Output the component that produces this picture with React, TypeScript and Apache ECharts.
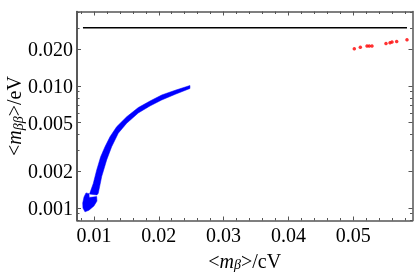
import React, { useEffect, useRef } from 'react';
import * as echarts from 'echarts';

// Axis ranges (data units)
const xMin = 0.00738;
const xMax = 0.05915;
const yMin = 0.00079;
const yMax = 0.0408;

// Tick values
const xMajorTicks = [0.01, 0.02, 0.03, 0.04, 0.05];
const xMinorTicks = [0.008, 0.012, 0.014, 0.016, 0.018, 0.022, 0.024, 0.026, 0.028, 0.032, 0.034, 0.036, 0.038, 0.042, 0.044, 0.046, 0.048, 0.052, 0.054, 0.056, 0.058];
const yMajorTicks = [0.001, 0.002, 0.005, 0.01, 0.02];
const yMinorTicks = [0.0008, 0.0009, 0.003, 0.004, 0.006, 0.007, 0.008, 0.009, 0.03, 0.04];

// Blue allowed region: upper/left edge (top -> bottom) and lower/right edge (bottom -> top)
const bandUpperEdge: [number, number][] = [
  [0.02481, 0.01009], [0.02265, 0.00927], [0.02045, 0.00844], [0.01864, 0.00753],
  [0.01684, 0.00666], [0.01505, 0.0056], [0.0135, 0.00464], [0.01247, 0.00384],
  [0.0117, 0.00318], [0.01103, 0.00263], [0.01042, 0.00205], [0.00989, 0.00159],
  [0.00931, 0.0013],
];
const bandLowerEdge: [number, number][] = [
  [0.01046, 0.00128], [0.01066, 0.00132], [0.01119, 0.00181], [0.01196, 0.00248],
  [0.01273, 0.00318], [0.01375, 0.0041], [0.01505, 0.00495], [0.01684, 0.00601],
  [0.01864, 0.00686], [0.02045, 0.00768], [0.02265, 0.0086], [0.02481, 0.00954],
];
const blobOutline: [number, number][] = [
  [0.00877, 0.00133], [0.00923, 0.00131], [0.00927, 0.00122], [0.01042, 0.00124],
  [0.01046, 0.00114], [0.01, 0.00104], [0.00923, 0.00096], [0.00861, 0.00093],
  [0.0083, 0.001], [0.00826, 0.0011], [0.00846, 0.00123],
];

// Red points
const redX = [0.05017, 0.0511, 0.05213, 0.05248, 0.0529, 0.05506, 0.05568, 0.05599, 0.05671, 0.0583];
const redY = [0.0202, 0.0208, 0.0213, 0.0213, 0.0213, 0.0223, 0.0226, 0.0229, 0.0232, 0.0239];

// Black horizontal bound
const boundLevel = 0.03;
const boundXStart = 0.0083;
const boundXEnd = 0.0583;

const FONT = 'Liberation Serif';
const FRAME = '#555';

const lg = (v: number) => Math.log10(v);

export default function App() {
  const ref = useRef<HTMLDivElement>(null);
  useEffect(() => {
    if (!ref.current) return;
    const chart = echarts.init(ref.current, undefined, { renderer: 'svg' });

    const xBase = {
      type: 'value' as const,
      min: xMin,
      max: xMax,
      splitLine: { show: false },
      gridIndex: 0,
    };
    const yBase = {
      type: 'value' as const,
      min: lg(yMin),
      max: lg(yMax),
      splitLine: { show: false },
      gridIndex: 0,
    };
    const richName = {
      a: { fontFamily: FONT, fontSize: 20, lineHeight: 22, color: '#000' },
      m: { fontFamily: FONT, fontSize: 20, lineHeight: 22, fontStyle: 'italic', color: '#000' },
      s: { fontFamily: FONT, fontSize: 14, lineHeight: 14, fontStyle: 'italic', color: '#000', padding: [8, 0, 0, 0] },
    };

    const option: any = {
      animation: false,
      grid: { left: 77, right: 2.5, top: 11.5, bottom: 53.5, containLabel: false, outerBoundsMode: 'none' },
      xAxis: [
        {
          ...xBase,
          position: 'bottom',
          axisLine: { show: true, lineStyle: { color: FRAME, width: 1.5 } },
          axisTick: { show: true, inside: true, length: 4, customValues: xMajorTicks, lineStyle: { color: FRAME } },
          axisLabel: {
            show: true,
            customValues: xMajorTicks,
            margin: 4,
            fontFamily: FONT,
            fontSize: 20,
            color: '#000',
            formatter: (v: number) => String(+v.toFixed(3)),
          },
          name: '{a|<}{m|m}{s|β}{a|>/cV}',
          nameLocation: 'middle',
          nameMoveOverlap: false,
          nameGap: 29,
          nameTextStyle: { fontFamily: FONT, fontSize: 20, color: '#000', rich: richName },
        },
        {
          ...xBase,
          position: 'bottom',
          axisLine: { show: false },
          axisTick: { show: true, inside: true, length: 2.5, customValues: xMinorTicks, lineStyle: { color: FRAME } },
          axisLabel: { show: false },
        },
        {
          ...xBase,
          position: 'top',
          axisLine: { show: true, lineStyle: { color: FRAME, width: 1.5 } },
          axisTick: { show: true, inside: true, length: 4, customValues: xMajorTicks, lineStyle: { color: FRAME } },
          axisLabel: { show: false },
        },
        {
          ...xBase,
          position: 'top',
          axisLine: { show: false },
          axisTick: { show: true, inside: true, length: 2.5, customValues: xMinorTicks, lineStyle: { color: FRAME } },
          axisLabel: { show: false },
        },
      ],
      yAxis: [
        {
          ...yBase,
          position: 'left',
          axisLine: { show: true, lineStyle: { color: '#222', width: 1.5 } },
          axisTick: { show: true, inside: true, length: 4, customValues: yMajorTicks.map(lg), lineStyle: { color: FRAME } },
          axisLabel: {
            show: true,
            customValues: yMajorTicks.map(lg),
            margin: 4,
            fontFamily: FONT,
            fontSize: 20,
            color: '#000',
            formatter: (v: number) => Math.pow(10, v).toFixed(3),
          },
          name: '{a|<}{m|m}{s|ββ}{a|>/eV}',
          nameLocation: 'middle',
          nameRotate: 90,
          nameMoveOverlap: false,
          nameGap: 52,
          nameTextStyle: { fontFamily: FONT, fontSize: 20, color: '#000', rich: richName },
        },
        {
          ...yBase,
          position: 'left',
          axisLine: { show: false },
          axisTick: { show: true, inside: true, length: 2.5, customValues: yMinorTicks.map(lg), lineStyle: { color: FRAME } },
          axisLabel: { show: false },
        },
        {
          ...yBase,
          position: 'right',
          axisLine: { show: true, lineStyle: { color: FRAME, width: 1.5 } },
          axisTick: { show: true, inside: true, length: 4, customValues: yMajorTicks.map(lg), lineStyle: { color: FRAME } },
          axisLabel: { show: false },
        },
        {
          ...yBase,
          position: 'right',
          axisLine: { show: false },
          axisTick: { show: true, inside: true, length: 2.5, customValues: yMinorTicks.map(lg), lineStyle: { color: FRAME } },
          axisLabel: { show: false },
        },
      ],
      series: [
        {
          type: 'custom',
          xAxisIndex: 0,
          yAxisIndex: 0,
          clip: true,
          data: [[bandUpperEdge[0][0], lg(bandUpperEdge[0][1])]],
          renderItem: (_params: any, api: any) => {
            const toPts = (pts: [number, number][]) => pts.map(([x, y]) => api.coord([x, lg(y)]));
            return {
              type: 'group',
              children: [
                {
                  type: 'polygon',
                  shape: { points: toPts([...bandUpperEdge, ...bandLowerEdge]) },
                  style: { fill: '#0000ff', stroke: '#0000ff', lineWidth: 0.5 },
                },
                {
                  type: 'polygon',
                  shape: { points: toPts(blobOutline) },
                  style: { fill: '#0000ff', stroke: '#0000ff', lineWidth: 0.5 },
                },
              ],
            };
          },
        },
        {
          type: 'line',
          xAxisIndex: 0,
          yAxisIndex: 0,
          data: [[boundXStart, lg(boundLevel)], [boundXEnd, lg(boundLevel)]],
          showSymbol: false,
          symbol: 'none',
          lineStyle: { color: '#000', width: 1.5 },
        },
        {
          type: 'scatter',
          xAxisIndex: 0,
          yAxisIndex: 0,
          data: redX.map((x, i) => [x, lg(redY[i])]),
          symbol: 'circle',
          symbolSize: 3.5,
          itemStyle: { color: '#ff0000' },
        },
      ],
    };
    chart.setOption(option);
    return () => chart.dispose();
  }, []);
  return <div ref={ref} style={{ position: 'fixed', left: 0, top: 0, width: 415, height: 274 }} />;
}
